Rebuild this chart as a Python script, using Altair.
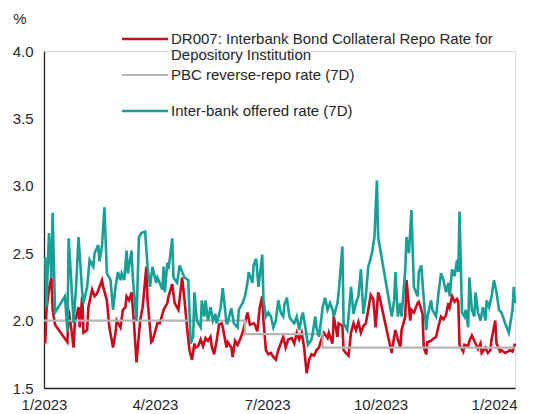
import altair as alt
import pandas as pd

# Day offsets from 2023-01-01 and values (%)
dr007_days = [1, 2, 4, 6, 7, 9, 19, 20, 22, 24, 25, 28, 29, 31, 32, 35, 36, 39, 41, 43, 45, 47, 48, 51, 53, 56, 58, 59, 62, 64, 66, 67, 69, 71, 73, 75, 78, 80, 83, 84, 87, 88, 92, 94,
              97, 100, 101, 104, 106, 109, 112, 114, 116, 118, 120, 122, 123, 125, 127, 129, 131, 133, 135, 136, 138, 140, 142, 144, 145, 148, 149, 152, 153, 155, 157, 159, 161, 163, 165, 167, 170, 171, 173, 175, 177, 178, 180, 182, 184, 186, 188, 190, 192, 194,
              196, 198, 201, 203, 205, 207, 209, 211, 213, 215, 217, 219, 221, 223, 225, 227, 230, 231, 234, 235, 238, 239, 242, 243, 246, 247, 249, 251, 253, 255, 257, 259, 261, 263, 265, 267, 269, 271, 272,
              282, 284, 285, 287, 289, 290, 293, 294, 297, 298, 300, 303, 304, 307, 308, 310, 311, 314, 315, 318, 320, 322, 324, 326, 328, 329, 331, 333, 335, 336, 337, 340, 341, 344, 345, 347, 350, 352, 354, 355, 358, 360, 362, 363, 366, 367, 370, 371, 374, 376, 378, 380, 382]
dr007_vals = [1.83, 2.08, 2.23, 2.32, 2.08, 1.97, 1.84, 2.08, 1.95, 1.80, 1.98, 2.10, 1.95, 2.18, 1.91, 1.93, 2.10, 2.23, 2.18, 2.20, 2.25, 2.30, 2.25, 2.15, 1.95, 1.80, 1.91, 2.00, 1.95, 2.08, 2.10, 2.18, 2.15, 2.21, 1.98, 1.69, 2.00, 2.10, 2.40, 2.15, 1.84, 1.85, 1.98, 1.98,
              2.08, 2.13, 2.18, 2.27, 2.13, 2.08, 2.32, 2.15, 1.95, 1.78, 1.71, 1.83, 1.80, 1.81, 1.86, 1.81, 1.87, 1.85, 1.88, 1.81, 1.75, 1.85, 1.97, 1.98, 1.95, 1.80, 1.84, 1.80, 1.73, 1.85, 1.82, 1.86, 1.91, 1.98, 2.06, 1.97, 1.98, 1.97, 1.92, 2.10, 2.18, 2.00, 1.78, 1.75, 1.76, 1.73, 1.71, 1.78, 1.83, 1.88,
              1.80, 1.86, 1.87, 1.83, 1.91, 1.86, 1.91, 1.80, 1.61, 1.71, 1.75, 1.74, 1.78, 1.80, 1.86, 1.91, 1.87, 1.91, 1.83, 2.03, 1.88, 1.98, 1.96, 1.78, 1.75, 1.74, 1.91, 1.98, 1.93, 1.99, 1.91, 1.96, 1.98, 2.08, 2.19, 2.16, 1.95, 2.21, 2.18,
              1.76, 1.88, 1.93, 1.86, 1.80, 1.93, 2.03, 2.30, 2.00, 2.08, 2.06, 2.13, 2.14, 2.05, 1.80, 1.75, 1.84, 1.85, 1.86, 1.88, 1.96, 2.03, 2.01, 2.04, 2.13, 2.10, 2.18, 2.14, 2.16, 2.14, 1.82, 1.77, 1.82, 1.81, 1.85, 1.89, 1.83, 1.79, 1.83, 1.76, 1.80, 1.76, 1.78, 1.86, 2.00, 1.83, 1.77, 1.78, 1.76, 1.77, 1.78, 1.77, 1.83]

ibor_days = [1, 2, 4, 6, 7, 9, 17, 19, 20, 23, 24, 26, 28, 31, 32, 35, 37, 40, 41, 44, 45, 47, 49, 51, 54, 56, 58, 60, 62, 63, 65, 67, 68, 71, 72, 75, 77, 79, 82, 84, 86, 88, 91, 92, 96,
             97, 98, 100, 101, 104, 105, 108, 110, 112, 114, 117, 119, 121, 122, 124, 127, 128, 130, 131, 133, 135, 137, 139, 140, 143, 145, 148, 149, 151, 152, 154, 157, 158, 161, 163, 165, 166, 169, 170, 172, 174, 177, 178, 180, 182, 184, 186, 188, 190, 192,
             194, 195, 197, 199, 201, 203, 205, 207, 209, 210, 212, 214, 217, 218, 220, 221, 223, 225, 226, 228, 230, 232, 234, 235, 238, 239, 242, 243, 246, 247, 249, 251, 253, 255, 257, 259, 261, 263, 264, 266, 268, 270, 271,
             282, 284, 285, 287, 289, 290, 293, 294, 296, 298, 300, 303, 304, 306, 307, 310, 311, 314, 315, 318, 320, 322, 324, 326, 328, 329, 331, 333, 335, 336, 337, 339, 341, 342, 344, 345, 347, 349, 350, 352, 354, 356, 358, 359, 361, 363, 365, 367, 369, 371, 374, 377, 380, 381, 382]
ibor_vals = [2.47, 2.10, 2.65, 2.32, 2.80, 2.06, 2.18, 1.92, 2.61, 2.15, 1.98, 2.25, 2.62, 2.21, 2.13, 2.25, 2.45, 2.40, 2.50, 2.56, 2.44, 2.55, 2.84, 2.35, 2.30, 2.08, 2.25, 2.36, 2.30, 2.35, 2.30, 2.52, 2.35, 2.52, 2.32, 2.00, 2.62, 2.65, 2.66, 2.40, 2.25, 2.40, 2.28, 2.32, 2.23,
             2.40, 2.21, 2.43, 2.38, 2.61, 2.32, 2.28, 2.41, 2.36, 2.32, 2.30, 1.83, 1.88, 2.21, 2.00, 1.95, 2.15, 2.03, 2.15, 2.00, 2.10, 2.00, 2.05, 1.98, 2.08, 2.24, 1.98, 1.98, 2.06, 2.09, 1.98, 1.95, 2.08, 2.13, 2.18, 2.28, 2.36, 2.28, 2.41, 2.46, 2.25, 2.49, 2.15, 2.03, 2.06, 2.03, 1.95, 2.00, 2.15, 2.06,
             2.03, 2.12, 2.17, 2.03, 2.00, 1.98, 2.03, 1.93, 2.03, 2.06, 1.95, 1.82, 1.86, 1.91, 2.03, 1.95, 1.88, 2.02, 2.10, 2.17, 2.08, 2.13, 2.08, 2.03, 2.13, 2.21, 2.55, 1.98, 1.93, 2.03, 2.25, 2.05, 2.13, 2.18, 2.38, 2.05, 2.18, 2.40, 2.43, 2.50, 2.62, 3.04, 2.62,
             2.03, 2.15, 2.36, 2.03, 2.13, 2.03, 2.38, 2.62, 2.50, 2.82, 2.25, 2.18, 2.36, 2.41, 2.28, 1.93, 2.03, 2.15, 2.08, 2.03, 2.21, 2.35, 2.30, 2.21, 2.28, 2.18, 2.38, 2.33, 2.45, 2.36, 2.81, 2.06, 2.03, 2.08, 1.95, 2.32, 2.08, 2.03, 2.21, 2.06, 2.00, 2.10, 2.00, 2.15, 2.10, 2.18, 2.30, 2.21, 2.08, 2.06, 1.98, 1.91, 2.08, 2.25, 2.13]

pbc_dates = ["2023-01-01", "2023-06-13", "2023-08-15", "2024-01-18"]
pbc_vals = [2.0, 1.9, 1.8, 1.8]

x_tick_dates = [(2023, 1), (2023, 4), (2023, 7), (2023, 10), (2024, 1)]
y_ticks = [1.5, 2.0, 2.5, 3.0, 3.5, 4.0]

legend_dr007 = ["DR007: Interbank Bond Collateral Repo Rate for", "Depository Institution"]
legend_pbc = "PBC reverse-repo rate (7D)"
legend_ibor = "Inter-bank offered rate (7D)"
unit_label = "%"

RED = "#cc0a1e"
GRAY = "#b4b4b4"
TEAL = "#16a096"
FONT = "Liberation Sans"
TXT = "#262626"
FS = 15

base_date = pd.Timestamp("2023-01-01")
df_red = pd.DataFrame({"date": base_date + pd.to_timedelta(dr007_days, unit="D"), "v": dr007_vals})
df_teal = pd.DataFrame({"date": base_date + pd.to_timedelta(ibor_days, unit="D"), "v": ibor_vals})
df_gray = pd.DataFrame({"date": pd.to_datetime(pbc_dates), "v": pbc_vals})
one = pd.DataFrame({"k": [0]})

xscale = alt.Scale(domain=[alt.DateTime(year=2023, month=1, date=1),
                           alt.DateTime(year=2024, month=1, date=18)])
yscale = alt.Scale(domain=[1.5, 4.0], nice=False, zero=False)

xaxis = alt.Axis(title=None, values=[alt.DateTime(year=y, month=m, date=1) for y, m in x_tick_dates],
                 format="%-m/%Y", grid=False, ticks=False, domainColor="#222222",
                 domainWidth=1.3, labelFont=FONT, labelFontSize=FS, labelColor=TXT,
                 labelPadding=9, labelOverlap=False, labelFlush=False)
yaxis = alt.Axis(title=None, values=y_ticks, format=".1f", grid=False, ticks=False,
                 domainColor="#222222", domainWidth=1.3, labelFont=FONT, labelFontSize=FS,
                 labelColor=TXT, labelPadding=11)

X = alt.X("date:T", scale=xscale, axis=xaxis)
Y = alt.Y("v:Q", scale=yscale, axis=yaxis)

red = alt.Chart(df_red).mark_line(color=RED, strokeWidth=2.6).encode(x=X, y=Y)
gray = alt.Chart(df_gray).mark_line(color=GRAY, strokeWidth=2.2, interpolate="step-after").encode(x=X, y=Y)
teal = alt.Chart(df_teal).mark_line(color=TEAL, strokeWidth=2.6).encode(x=X, y=Y)

def leg_line(color, y, w=2.6):
    return alt.Chart(one).mark_rule(color=color, strokeWidth=w).encode(
        x=alt.value(78), x2=alt.value(124), y=alt.value(y))

def leg_text(txt, y):
    return alt.Chart(one).mark_text(align="left", baseline="middle", font=FONT,
                                    fontSize=FS, color=TXT, text=txt).encode(
        x=alt.value(127), y=alt.value(y))

pct = alt.Chart(one).mark_text(align="center", baseline="middle", font=FONT,
                               fontSize=FS, color=TXT, text=unit_label).encode(
    x=alt.value(-24), y=alt.value(-32))

legend = (leg_line(RED, -12) + leg_text(legend_dr007[0], -12) + leg_text(legend_dr007[1], 4)
          + leg_line(GRAY, 24, 2.2) + leg_text(legend_pbc, 24)
          + leg_line(TEAL, 60) + leg_text(legend_ibor, 60))

chart = alt.layer(red, gray, teal, legend, pct).properties(
    width=471, height=337,
    autosize=alt.AutoSizeParams(type="none"),
    padding={"left": 36, "top": 43, "right": 10, "bottom": 26},
).configure_view(stroke=None).configure(background="white")

chart.save("out.html", embed_options={"renderer": "svg", "actions": False})
